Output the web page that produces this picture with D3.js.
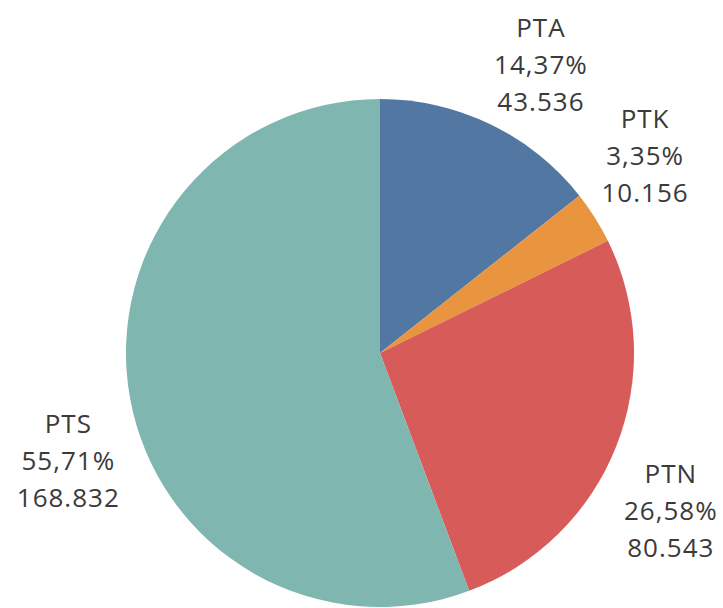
<!DOCTYPE html>
<html>
<head>
<meta charset="utf-8">
<script src="https://cdn.jsdelivr.net/npm/d3@7"></script>
<style>
    body { margin: 0; background: #fff; }
    svg text { font-family: "Open Sans", sans-serif; }
</style>
</head>
<body>
<div id="main"></div>
<script>
// data
const categories = ["PTA", "PTK", "PTN", "PTS"];
const values = [43536, 10156, 80543, 168832];
const percents = ["14,37%", "3,35%", "26,58%", "55,71%"];
const valueLabels = ["43.536", "10.156", "80.543", "168.832"];
const colors = ["#5377a3", "#e9943f", "#d65b59", "#80b6b0"];

const ctx = {
    w: 723,
    h: 608,
    cx: 380,
    cy: 353,
    r: 254,
    label_r: 330,
    font_size: 26,
    line_h: 37,
    // small nudges so labels sit where Tableau put them
    nudge: [[17, 9], [-14, -21], [-16, 36], [13, 49]],
};

function createViz() {
    let svg = d3.select("#main").append("svg")
        .attr("width", ctx.w)
        .attr("height", ctx.h);

    let data = categories.map((c, i) => ({
        cat: c, value: values[i], pct: percents[i], lbl: valueLabels[i], idx: i
    }));

    let pie = d3.pie()
        .sort(null)
        .value(d => d.value);

    let arc = d3.arc()
        .innerRadius(0)
        .outerRadius(ctx.r);

    let labelArc = d3.arc()
        .innerRadius(ctx.label_r)
        .outerRadius(ctx.label_r);

    let g = svg.append("g")
        .attr("transform", `translate(${ctx.cx},${ctx.cy})`);

    let arcs = pie(data);

    g.selectAll("path")
        .data(arcs)
        .enter().append("path")
        .attr("d", arc)
        .attr("fill", d => colors[d.data.idx]);

    let labels = g.selectAll("text.lbl")
        .data(arcs)
        .enter().append("text")
        .attr("class", "lbl")
        .attr("text-anchor", "middle")
        .style("font-size", ctx.font_size + "px")
        .style("letter-spacing", "1px")
        .style("fill", "#3a3a3a")
        .attr("transform", d => {
            let [x, y] = labelArc.centroid(d);
            let n = ctx.nudge[d.data.idx];
            return `translate(${x + n[0]},${y + n[1]})`;
        });

    labels.each(function (d) {
        let lines = [d.data.cat, d.data.pct, d.data.lbl];
        d3.select(this).selectAll("tspan")
            .data(lines)
            .enter().append("tspan")
            .attr("x", 0)
            .attr("y", (t, i) => (i - 1) * ctx.line_h + 9)
            .text(t => t);
    });
}

createViz();
</script>
</body>
</html>
